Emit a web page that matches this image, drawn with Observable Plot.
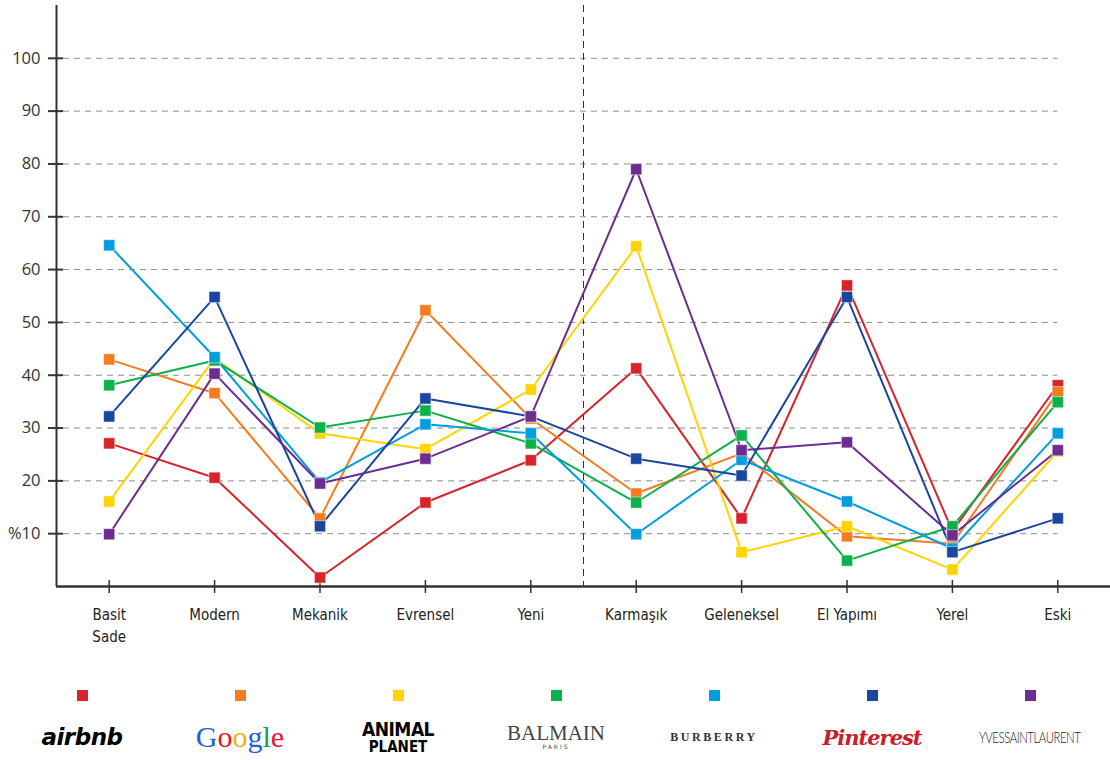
<!DOCTYPE html>
<html>
<head>
<meta charset="utf-8">
<script src="https://cdn.jsdelivr.net/npm/d3@7"></script>
<script src="https://cdn.jsdelivr.net/npm/@observablehq/plot@0.6"></script>
<style>
  html, body { margin: 0; padding: 0; background: #fff; }
  #chart svg { display: block; }
  #legend { display: flex; padding-left: 3px; padding-top: 40px; }
  .item { width: 158px; display: flex; flex-direction: column; align-items: center; }
  .sq { width: 11px; height: 11px; }
  .logo { margin-top: 16px; height: 40px; display: flex; flex-direction: column; align-items: center; justify-content: center; white-space: nowrap; }
</style>
</head>
<body>
<div id="chart"></div>
<div id="legend"></div>
<script>
// ---- data ----
const categories = ["Basit\nSade", "Modern", "Mekanik", "Evrensel", "Yeni", "Karmaşık", "Geleneksel", "El Yapımı", "Yerel", "Eski"];
const brands = ["airbnb", "Google", "Animal Planet", "Balmain", "Burberry", "Pinterest", "Yves Saint Laurent"];
const colors = ["#d7232b", "#f47b20", "#ffd400", "#0db14b", "#009ddf", "#1b46a0", "#6c2d91"];
const airbnb       = [27.1, 20.6,  1.7, 15.9, 23.9, 41.3, 12.9, 57.0, 10.5, 38.1];
const google       = [43.0, 36.6, 12.9, 52.3, 31.8, 17.6, 25.2,  9.5,  8.1, 36.8];
const animalPlanet = [16.1, 43.2, 29.0, 26.0, 37.3, 64.4,  6.5, 11.4,  3.2, 25.6];
const balmain      = [38.1, 42.8, 30.1, 33.3, 27.1, 15.9, 28.6,  4.9, 11.4, 34.9];
const burberry     = [64.6, 43.4, 19.7, 30.7, 29.0,  9.9, 24.0, 16.1,  7.2, 29.0];
const pinterest    = [32.2, 54.8, 11.4, 35.6, 32.2, 24.2, 21.0, 54.8,  6.5, 12.9];
const ysl          = [ 9.9, 40.3, 19.5, 24.2, 32.2, 79.0, 25.8, 27.3,  9.7, 25.8];
const yTicks = [10, 20, 30, 40, 50, 60, 70, 80, 90, 100];
const dividerAfter = "Yeni"; // dashed separator between Yeni and Karmaşık

const seriesValues = [airbnb, google, animalPlanet, balmain, burberry, pinterest, ysl];
const rows = [];
seriesValues.forEach((vals, s) => vals.forEach((v, i) => rows.push({brand: brands[s], i, v})));
const idx = categories.map((_, i) => i);
const divider = [categories.indexOf(dividerAfter) + 0.5];
const lastIdx = categories.length - 1;

const axisColor = "#333";
const chart = Plot.plot({
  width: 1110,
  height: 650,
  marginLeft: 56,
  marginRight: 0,
  marginTop: 5,
  marginBottom: 64,
  x: {type: "linear", domain: [-0.5, categories.length - 0.5], axis: null},
  y: {domain: [0, 110], axis: null},
  color: {domain: brands, range: colors},
  style: {fontFamily: "'Open Sans', sans-serif", background: "#fff"},
  marks: [
    // grid
    Plot.ruleY(yTicks, {x1: -0.5, x2: lastIdx, insetLeft: 7, stroke: "#8c8c8c", strokeWidth: 1, strokeDasharray: "6,5"}),
    // divider
    Plot.ruleX(divider, {stroke: "#333", strokeWidth: 1, strokeDasharray: "7,5"}),
    // axes lines
    Plot.ruleX([-0.5], {stroke: axisColor, strokeWidth: 2}),
    Plot.ruleY([0], {stroke: axisColor, strokeWidth: 2.5}),
    // tick marks crossing axes
    Plot.ruleY(yTicks, {x1: -0.5, x2: -0.5, insetLeft: -8, insetRight: -7, stroke: axisColor, strokeWidth: 2}),
    Plot.ruleX(idx, {y1: 0, y2: 0, insetTop: -6, insetBottom: -7, stroke: axisColor, strokeWidth: 1.5}),
    // tick labels
    Plot.axisY(yTicks, {label: null, tickSize: 0, tickPadding: 16, tickFormat: d => d === 10 ? "%10" : String(d), fontSize: 16.5, fill: "#333"}),
    Plot.axisX(idx, {label: null, tickSize: 0, tickPadding: 18, tickFormat: i => categories[i], fontSize: 15, lineHeight: 1.45,
      fontFamily: "'Liberation Sans Narrow', 'DejaVu Sans Condensed', sans-serif", fill: "#222"}),
    // series
    Plot.lineY(rows, {x: "i", y: "v", z: "brand", stroke: "brand", strokeWidth: 2}),
    Plot.dot(rows, {x: "i", y: "v", fill: "brand", symbol: "square", r: 6.3, stroke: "#fff", strokeWidth: 0.7, strokeOpacity: 0.7})
  ]
});
document.getElementById("chart").append(chart);

// ---- legend (logos as styled text) ----
const logoHTML = [
  `<span style="font:italic bold 23px 'DejaVu Sans',sans-serif;color:#000;letter-spacing:-0.5px">airbnb</span>`,
  `<span style="font:30px 'Liberation Serif',serif"><span style="color:#1f5fd8">G</span><span style="color:#e5172e">o</span><span style="color:#f4b400">o</span><span style="color:#1f5fd8">g</span><span style="color:#13a24a">l</span><span style="color:#e5172e">e</span></span>`,
  `<span style="font:bold 19px/20px 'DejaVu Sans Condensed',sans-serif;color:#000;letter-spacing:-0.5px">ANIMAL</span><span style="font:bold 15px/16px 'DejaVu Sans Condensed',sans-serif;color:#000">PLANET</span>`,
  `<span style="font:21px/20px 'Liberation Serif',serif;color:#444">BALMAIN</span><span style="font:6px/8px 'DejaVu Sans',sans-serif;color:#444;letter-spacing:2px">PARIS</span>`,
  `<span style="font:bold 12px 'Liberation Serif',serif;color:#333;letter-spacing:2.6px">BURBERRY</span>`,
  `<span style="font:italic bold 21px 'DejaVu Serif',serif;color:#c8202a;letter-spacing:-1px">Pinterest</span>`,
  `<span style="display:inline-block;transform:scaleX(0.76);font:300 15px 'Lato',sans-serif;color:#222;letter-spacing:-0.6px">YVESSAINTLAURENT</span>`
];
const legend = document.getElementById("legend");
brands.forEach((b, k) => {
  const item = document.createElement("div");
  item.className = "item";
  item.innerHTML = `<div class="sq" style="background:${colors[k]}"></div><div class="logo" title="${b}">${logoHTML[k]}</div>`;
  legend.append(item);
});
</script>
</body>
</html>
